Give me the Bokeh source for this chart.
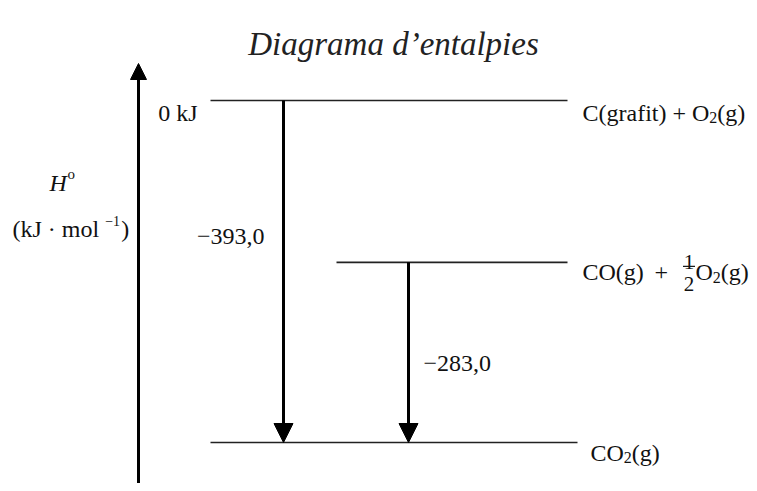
from bokeh.plotting import figure
from bokeh.models import Range1d, Arrow, NormalHead
from bokeh.core.properties import value
from bokeh.embed import file_html
from bokeh.resources import INLINE

# ---- data (schematic enthalpy levels, kJ) ----
level_H = [0.0, -186.0, -393.0]          # C+O2, CO+1/2O2, CO2 (drawn positions)
level_x0 = [210, 336, 210]
level_x1 = [567, 567, 577]
change_labels = ["\u2212393,0", "\u2212283,0"]
change_from = [0, 1]
change_to = [2, 2]
change_x = [283, 408]
zero_label = "0 kJ"
title_text = "Diagrama d\u2019entalpies"

# ---- layout helpers (image px <-> enthalpy units) ----
PX = 342.0 / 393.0      # px per kJ
Y0 = 100.0              # image y of H = 0
def H_of(img_y):
    return -(img_y - Y0) / PX
def img_of(H):
    return Y0 - H * PX

FONT = "Liberation Serif"
FS = 24
W = {' ': 250, '(': 333, ')': 333, '+': 564, 'C': 667, 'O': 722, 'g': 500, 'r': 333,
     'a': 444, 'f': 333, 'i': 278, 't': 278, 'k': 500, 'J': 389, 'm': 778, 'o': 500,
     'l': 278, '\u00b7': 250, '\u2212': 564, ',': 250}
for d in "0123456789":
    W[d] = 500
def width(s, size):
    return sum(W.get(c, 500) for c in s) * size / 1000.0

FW, FH = 749, 483
p = figure(width=FW, height=FH, x_range=Range1d(0, FW),
           y_range=Range1d(H_of(FH), H_of(0)),
           output_backend="svg", toolbar_location=None, min_border=0)
p.axis.visible = False
p.grid.visible = False
p.outline_line_color = None
p.background_fill_color = "white"
p.border_fill_color = "white"

def frag(x, y_img, s, size, italic=False, align="left", color="#111111"):
    p.text(x=[x], y=[H_of(y_img)], text=[s], text_font=value(FONT),
           text_font_size=f"{size}px",
           text_font_style="italic" if italic else "normal",
           text_align=align, text_baseline="alphabetic", text_color=color)

def chem(x, y_img, parts, size=FS):
    for s, kind in parts:
        if kind == "sub":
            frag(x, y_img + 5, s, 16)
            x += width(s, 16)
        else:
            frag(x, y_img, s, size)
            x += width(s, size)
    return x

# title
frag(393, 43, title_text, 33, italic=True, align="center", color="#222222")

# enthalpy levels
p.segment(x0=level_x0, y0=level_H, x1=level_x1, y1=level_H,
          line_color="#222222", line_width=1.6)

# vertical axis arrow
p.add_layout(Arrow(end=NormalHead(size=16, fill_color="black", line_color="black", line_width=1),
                   x_start=138, y_start=H_of(FH), x_end=138, y_end=H_of(63),
                   line_width=3, line_color="black"))

# reaction arrows
for i in range(len(change_labels)):
    p.add_layout(Arrow(end=NormalHead(size=19, fill_color="black", line_color="black", line_width=1),
                       x_start=change_x[i], y_start=level_H[change_from[i]],
                       x_end=change_x[i], y_end=level_H[change_to[i]],
                       line_width=3, line_color="black"))

# change labels
frag(change_x[0] - 19, 236, change_labels[0], FS, align="right")
frag(change_x[1] + 15, 363, change_labels[1], FS, align="left")

# zero label
frag(197, img_of(level_H[0]) + 12, zero_label, FS, align="right")

# level labels
yb = img_of(level_H[0]) + 12
chem(582, yb, [("C(grafit) + O", "n"), ("2", "sub"), ("(g)", "n")])

yb = img_of(level_H[1]) + 10
chem(582, yb, [("CO(g)", "n")])
frag(654, yb, "+", FS)
frag(688.5, yb - 10, "1", 21, align="center")
frag(688.5, yb + 12, "2", 21, align="center")
p.segment(x0=[682.5], y0=[H_of(yb - 6)], x1=[694.5], y1=[H_of(yb - 6)],
          line_color="#111111", line_width=1.2)
chem(695, yb, [("O", "n"), ("2", "sub"), ("(g)", "n")])

yb = img_of(level_H[2]) + 10
chem(590, yb, [("CO", "n"), ("2", "sub"), ("(g)", "n")])

# y-axis label
frag(49, 182, "H", FS, italic=True)
frag(67, 173, "o", 15)
x = chem(12, 228, [("(kJ \u00b7 mol ", "n")])
frag(x + 2, 220, "\u22121", 14)
frag(x + 18, 228, ")", FS)

open("out.html", "w").write(file_html(p, INLINE))
